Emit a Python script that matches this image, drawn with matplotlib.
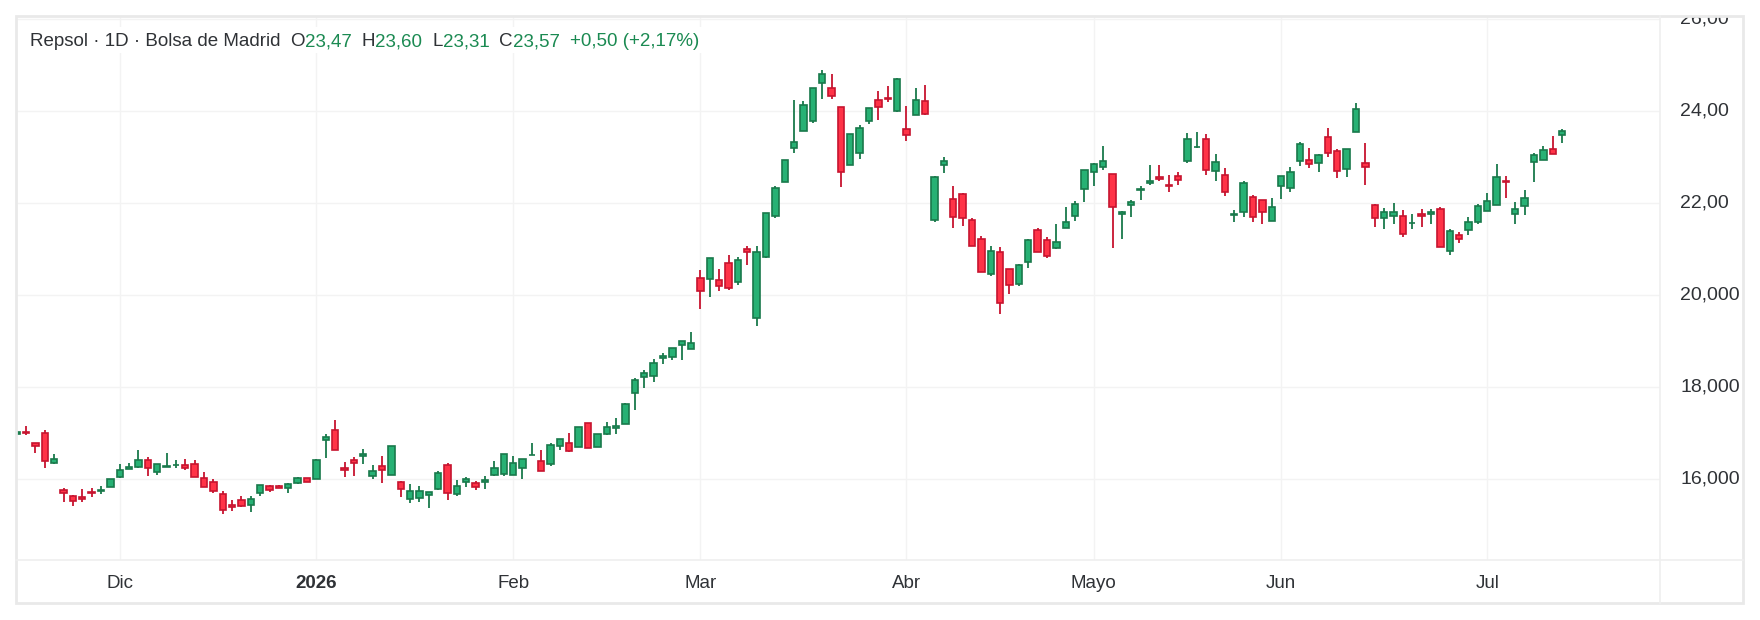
import matplotlib
matplotlib.use("Agg")
import matplotlib.pyplot as plt
import matplotlib.transforms as mtransforms
from matplotlib.patches import Rectangle
from matplotlib.lines import Line2D

W, H = 1760, 620

# ---------------- data ----------------
opens = [16.98, 17.03, 16.78, 16.99, 16.35, 15.76, 15.63, 15.61, 15.71, 15.75,
         15.83, 16.04, 16.22, 16.26, 16.41, 16.15, 16.26, 16.30, 16.30, 16.33,
         16.02, 15.93, 15.67, 15.43, 15.54, 15.43, 15.70, 15.85, 15.85, 15.80,
         15.91, 16.02, 16.01, 16.85, 17.07, 16.24, 16.41, 16.50, 16.06, 16.28,
         16.08, 15.93, 15.57, 15.59, 15.65, 15.78, 16.30, 15.67, 15.93, 15.91,
         15.93, 16.08, 16.11, 16.08, 16.24, 16.52, 16.39, 16.33, 16.72, 16.78,
         16.70, 17.22, 16.70, 16.98, 17.11, 17.20, 17.88, 18.22, 18.24, 18.63,
         18.65, 18.91, 18.83, 20.37, 20.35, 20.33, 20.70, 20.28, 21.00, 19.50,
         20.82, 21.72, 22.46, 23.20, 23.57, 23.78, 24.61, 24.50, 24.09, 22.83,
         23.09, 23.78, 24.24, 24.29, 24.00, 23.61, 23.91, 24.22, 21.63, 22.83,
         22.09, 22.20, 21.63, 21.22, 20.46, 20.93, 20.57, 20.24, 20.72, 21.41,
         21.20, 21.02, 21.46, 21.72, 22.30, 22.67, 22.78, 22.63, 21.76, 21.96,
         22.29, 22.43, 22.57, 22.40, 22.59, 22.91, 23.21, 23.39, 22.70, 22.61,
         21.75, 21.80, 22.13, 22.07, 21.61, 22.37, 22.33, 22.91, 22.93, 22.87,
         23.43, 23.13, 22.74, 23.54, 22.87, 21.96, 21.67, 21.72, 21.72, 21.56,
         21.75, 21.76, 21.87, 20.96, 21.30, 21.41, 21.59, 21.83, 21.96, 22.47,
         21.76, 21.93, 22.90, 22.94, 23.17, 23.47]
highs = [17.05, 17.16, 16.79, 17.07, 16.55, 15.80, 15.66, 15.79, 15.80, 15.84,
         16.00, 16.33, 16.35, 16.62, 16.48, 16.33, 16.57, 16.41, 16.44, 16.42,
         16.15, 16.00, 15.74, 15.54, 15.63, 15.63, 15.87, 15.87, 15.87, 15.91,
         16.04, 16.02, 16.43, 16.98, 17.28, 16.37, 16.48, 16.65, 16.30, 16.50,
         16.72, 15.96, 15.89, 15.85, 15.72, 16.17, 16.35, 15.98, 16.04, 15.96,
         16.07, 16.39, 16.54, 16.50, 16.43, 16.79, 16.64, 16.79, 16.87, 16.99,
         17.13, 17.22, 16.98, 17.24, 17.33, 17.65, 18.20, 18.37, 18.61, 18.74,
         18.85, 19.00, 19.20, 20.55, 20.80, 20.57, 20.87, 20.83, 21.07, 21.07,
         21.78, 22.37, 22.93, 24.24, 24.22, 24.50, 24.89, 24.80, 24.09, 23.50,
         23.70, 24.07, 24.43, 24.54, 24.72, 24.11, 24.50, 24.57, 22.59, 23.00,
         22.37, 22.22, 21.67, 21.28, 21.07, 21.04, 20.57, 20.67, 21.22, 21.46,
         21.26, 21.54, 21.91, 22.04, 22.72, 22.87, 23.24, 22.63, 21.83, 22.07,
         22.37, 22.83, 22.83, 22.61, 22.67, 23.52, 23.54, 23.50, 23.07, 22.76,
         21.85, 22.48, 22.17, 22.07, 22.11, 22.59, 22.78, 23.33, 23.20, 23.07,
         23.63, 23.17, 23.17, 24.17, 23.30, 21.98, 21.89, 22.00, 21.85, 21.76,
         21.87, 21.87, 21.91, 21.43, 21.37, 21.70, 21.98, 22.22, 22.85, 22.59,
         22.02, 22.28, 23.09, 23.24, 23.46, 23.60]
lows = [16.95, 16.95, 16.56, 16.25, 16.32, 15.49, 15.41, 15.49, 15.60, 15.67,
        15.83, 16.03, 16.21, 16.25, 16.06, 16.08, 16.26, 16.25, 16.20, 16.04,
        15.83, 15.70, 15.23, 15.30, 15.39, 15.28, 15.63, 15.72, 15.80, 15.70,
        15.89, 15.93, 16.01, 16.45, 16.63, 16.04, 16.06, 16.32, 15.99, 15.91,
        16.08, 15.60, 15.47, 15.49, 15.36, 15.76, 15.54, 15.63, 15.83, 15.76,
        15.78, 16.06, 16.06, 16.08, 16.01, 16.52, 16.17, 16.28, 16.63, 16.59,
        16.70, 16.67, 16.70, 16.96, 16.98, 17.20, 17.51, 17.97, 18.10, 18.50,
        18.59, 18.59, 18.83, 19.70, 19.96, 20.09, 20.11, 20.22, 20.65, 19.32,
        20.80, 21.67, 22.46, 23.09, 23.57, 23.74, 24.26, 24.26, 22.35, 22.83,
        22.96, 23.72, 23.80, 24.20, 23.98, 23.35, 23.91, 23.91, 21.59, 22.65,
        21.46, 21.50, 21.07, 20.50, 20.41, 19.58, 20.02, 20.20, 20.59, 20.93,
        20.80, 21.00, 21.46, 21.61, 22.02, 22.37, 22.72, 21.02, 21.22, 21.70,
        22.07, 22.39, 22.48, 22.24, 22.39, 22.87, 23.20, 22.61, 22.48, 22.15,
        21.59, 21.70, 21.59, 21.54, 21.61, 22.09, 22.24, 22.80, 22.76, 22.67,
        23.00, 22.54, 22.57, 23.54, 22.39, 21.48, 21.43, 21.54, 21.26, 21.43,
        21.48, 21.54, 21.04, 20.87, 21.13, 21.30, 21.54, 21.83, 21.96, 22.10,
        21.55, 21.73, 22.45, 22.94, 23.07, 23.31]
closes = [17.02, 16.99, 16.72, 16.39, 16.43, 15.70, 15.52, 15.57, 15.69, 15.77,
          15.99, 16.20, 16.26, 16.41, 16.24, 16.33, 16.27, 16.31, 16.24, 16.04,
          15.83, 15.74, 15.33, 15.39, 15.41, 15.57, 15.87, 15.76, 15.80, 15.89,
          16.02, 15.93, 16.41, 16.91, 16.63, 16.20, 16.35, 16.54, 16.17, 16.20,
          16.72, 15.78, 15.74, 15.74, 15.72, 16.13, 15.70, 15.85, 16.00, 15.83,
          15.98, 16.24, 16.54, 16.35, 16.43, 16.53, 16.17, 16.74, 16.87, 16.61,
          17.13, 16.67, 16.98, 17.13, 17.15, 17.63, 18.15, 18.30, 18.52, 18.67,
          18.85, 19.00, 18.96, 20.09, 20.80, 20.20, 20.15, 20.76, 20.93, 20.93,
          21.78, 22.33, 22.93, 23.33, 24.13, 24.50, 24.80, 24.33, 22.67, 23.50,
          23.63, 24.07, 24.09, 24.27, 24.70, 23.48, 24.24, 23.93, 22.57, 22.91,
          21.70, 21.67, 21.07, 20.50, 20.96, 19.83, 20.22, 20.65, 21.20, 20.93,
          20.85, 21.15, 21.59, 21.98, 22.72, 22.85, 22.91, 21.91, 21.80, 22.02,
          22.31, 22.48, 22.52, 22.38, 22.50, 23.39, 23.22, 22.72, 22.89, 22.24,
          21.77, 22.43, 21.70, 21.80, 21.91, 22.59, 22.67, 23.28, 22.85, 23.04,
          23.09, 22.70, 23.17, 24.04, 22.78, 21.67, 21.80, 21.80, 21.33, 21.57,
          21.71, 21.80, 21.04, 21.39, 21.22, 21.59, 21.93, 22.04, 22.56, 22.45,
          21.87, 22.10, 23.04, 23.16, 23.07, 23.57]

ytick_values = [26, 24, 22, 20, 18, 16]
ytick_labels = ["26,00", "24,00", "22,00", "20,000", "18,000", "16,000"]
month_index = [11, 32, 53, 73, 95, 115, 135, 157]
month_labels = ["Dic", "2026", "Feb", "Mar", "Abr", "Mayo", "Jun", "Jul"]
month_bold = [False, True, False, False, False, False, False, False]
title = "Repsol · 1D · Bolsa de Madrid"

# ---------------- style ----------------
plt.rcParams["font.family"] = ["Liberation Sans", "DejaVu Sans"]
UP_FILL, UP_EDGE = "#27b174", "#19794b"
DN_FILL, DN_EDGE = "#ff3347", "#c7142f"
TXT = "#2f3236"
GREEN_TXT = "#1b8a52"
GRID = "#f3f3f3"
BORDER = "#e9e9e9"

fig = plt.figure(figsize=(W / 100, H / 100), dpi=100)
fig.patch.set_facecolor("white")

def fx(x):
    return x / W

def fy(y):
    return 1 - y / H

PLOT_L, PLOT_R, PLOT_T, PLOT_B = 16, 1660, 16, 560
RIGHT_B, BOTTOM_B = 1743, 603

ax = fig.add_axes([fx(PLOT_L), fy(PLOT_B), (PLOT_R - PLOT_L) / W, (PLOT_B - PLOT_T) / H])
ax.set_facecolor("white")
for s in ax.spines.values():
    s.set_visible(False)
ax.set_xticks([])
ax.set_yticks([])

x0_px, step_px = 16.7, 9.366
ax.set_xlim((PLOT_L - x0_px) / step_px, (PLOT_R - x0_px) / step_px)
px_per_unit = 46.0
y24 = 111.0
ax.set_ylim(24 - (PLOT_B - y24) / px_per_unit, 24 + (y24 - PLOT_T) / px_per_unit)

for v in ytick_values:
    ax.axhline(v, color=GRID, lw=1.0, zorder=0)
for i in month_index:
    ax.axvline(i, color=GRID, lw=1.0, zorder=0)

n = len(opens)
xs = list(range(n))
up = [c >= o for o, c in zip(opens, closes)]
edge = [UP_EDGE if u else DN_EDGE for u in up]
fill = [UP_FILL if u else DN_FILL for u in up]
ax.vlines(xs, lows, highs, colors=edge, lw=1.3, zorder=2)
bottoms = [min(o, c) for o, c in zip(opens, closes)]
heights = [max(abs(c - o), 0.012) for o, c in zip(opens, closes)]
ax.bar(xs, heights, bottom=bottoms, width=0.68, color=fill, edgecolor=edge,
       linewidth=1.2, zorder=3)

# ---------------- frame lines ----------------
fig.add_artist(Rectangle((fx(PLOT_L), fy(BOTTOM_B)), (RIGHT_B - PLOT_L) / W,
                         (BOTTOM_B - PLOT_T) / H, transform=fig.transFigure,
                         fill=False, edgecolor=BORDER, lw=2.0, zorder=5))
fig.add_artist(Line2D([fx(PLOT_L), fx(RIGHT_B)], [fy(PLOT_B), fy(PLOT_B)],
                      transform=fig.transFigure, color="#efefef", lw=1.2, zorder=5))
fig.add_artist(Line2D([fx(PLOT_R), fx(PLOT_R)], [fy(PLOT_T), fy(BOTTOM_B)],
                      transform=fig.transFigure, color="#efefef", lw=1.2, zorder=5))

# ---------------- y labels (clipped at the top border) ----------------
lax = fig.add_axes([fx(PLOT_R), fy(PLOT_B), (RIGHT_B - PLOT_R) / W, (PLOT_B - PLOT_T) / H])
lax.set_ylim(ax.get_ylim())
lax.axis("off")
ltr = mtransforms.blended_transform_factory(lax.transAxes, lax.transData)
for v, lab in zip(ytick_values, ytick_labels):
    lax.text((1680 - PLOT_R) / (RIGHT_B - PLOT_R), v, lab, transform=ltr,
             ha="left", va="center", fontsize=14, color=TXT, clip_on=True)

# ---------------- x labels ----------------
xtr = mtransforms.blended_transform_factory(ax.transData, fig.transFigure)
for i, lab, b in zip(month_index, month_labels, month_bold):
    ax.text(i, fy(583), lab, transform=xtr, ha="center", va="center",
            fontsize=13.5, color=TXT, fontweight="bold" if b else "normal", clip_on=False)

# ---------------- legend line ----------------
def fmt(v):
    return f"{v:.2f}".replace(".", ",")

chg = closes[-1] - closes[-2]
pct = chg / closes[-2] * 100
pieces = [
    (title, TXT, 10),
    ("O", TXT, 0), (fmt(opens[-1]), GREEN_TXT, 10),
    ("H", TXT, 0), (fmt(highs[-1]), GREEN_TXT, 10),
    ("L", TXT, 0), (fmt(lows[-1]), GREEN_TXT, 10),
    ("C", TXT, 0), (fmt(closes[-1]), GREEN_TXT, 10),
    (f"{'+' if chg >= 0 else ''}{fmt(chg)} ({'+' if pct >= 0 else ''}{fmt(pct)}%)", GREEN_TXT, 0),
]
renderer = fig.canvas.get_renderer()
xcur = 30.0
ycen = H - 40.0
ident = mtransforms.IdentityTransform()
texts = []
for s, col, gap in pieces:
    t = fig.text(xcur, ycen, s, transform=ident, ha="left", va="center_baseline",
                 fontsize=13.5, color=col, zorder=7)
    ext = t.get_window_extent(renderer)
    texts.append(ext)
    xcur = ext.x1 + gap
x_end = texts[-1].x1
fig.add_artist(Rectangle((fx(26), fy(53)), (x_end + 4 - 26) / W, 26 / H,
                         transform=fig.transFigure, facecolor="white",
                         edgecolor="none", zorder=6))

fig.savefig("out.png", dpi=100, facecolor="white")
